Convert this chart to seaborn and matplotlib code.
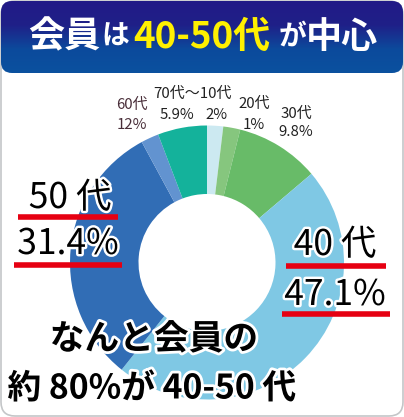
import matplotlib
matplotlib.use("Agg")
import matplotlib.pyplot as plt
import matplotlib.patheffects as pe
from matplotlib.patches import FancyBboxPatch
import numpy as np
import seaborn as sns

sns.set_theme(style="white")
plt.rcParams['font.family'] = ['Noto Sans CJK JP', 'DejaVu Sans']

groups = ["10代", "20代", "30代", "40代", "50代", "60代", "70代"]
ring_shares = [1.9, 2.0, 9.9, 46.9, 31.4, 2.1, 5.8]
ring_colors = ["#cce9f1", "#86c67e", "#68bb68", "#7fc8e4", "#316db5", "#6293d0", "#14b29b"]

W, H = 404, 417
fig = plt.figure(figsize=(W / 100, H / 100), dpi=100)
ax = fig.add_axes([0, 0, 1, 1])
ax.set_xlim(0, W)
ax.set_ylim(H, 0)
ax.axis("off")

# outer frame
ax.add_patch(FancyBboxPatch((1, 1), W - 2, H - 2, boxstyle="round,pad=0,rounding_size=14",
                            fc="white", ec="#c4c6c8", lw=1.2))

# header band with vertical gradient
band = FancyBboxPatch((1, 1), W - 2, 72, boxstyle="round,pad=0,rounding_size=11",
                      fc="none", ec="none", transform=ax.transData)
ax.add_patch(band)
grad = np.linspace(0, 1, 100).reshape(-1, 1)
cmap = matplotlib.colors.LinearSegmentedColormap.from_list(
    "band", ["#221a87", "#1f2088", "#0c4a9c", "#0a519f"])
im = ax.imshow(grad, extent=(1, W - 1, 73, 1), cmap=cmap, aspect="auto", zorder=2)
im.set_clip_path(band)
ax.set_xlim(0, W)
ax.set_ylim(H, 0)

title_parts = [(64, "会員", "white", 26), (115, "は", "white", 20), (202, "40-50代", "#fff000", 26.5),
               (292, "が", "white", 20), (342, "中心", "white", 26)]
for x, txt, col, size in title_parts:
    ax.text(x, 37, txt, color=col, fontsize=size, fontweight="bold",
            ha="center", va="center", zorder=3)

# donut, drawn in its own axes so it stays circular
cx, cy, r = 207, 262.5, 137
dax = fig.add_axes([(cx - r) / W, 1 - (cy + r) / H, 2 * r / W, 2 * r / H])
dax.pie(ring_shares, colors=ring_colors, startangle=90, counterclock=False, radius=1,
        wedgeprops=dict(width=0.5, linewidth=0))
dax.set_xlim(-1, 1)
dax.set_ylim(-1, 1)
dax.set_aspect("equal")
dax.axis("off")
dax.patch.set_alpha(0)

# text overlay above donut
tax = fig.add_axes([0, 0, 1, 1])
tax.set_xlim(0, W)
tax.set_ylim(H, 0)
tax.axis("off")
tax.patch.set_alpha(0)

small_labels = [(193, 94, "70代〜10代", "#222222"), (177, 114.5, "5.9%", "#222222"),
                (217, 114.5, "2%", "#222222"), (254, 103.5, "20代", "#222222"),
                (254, 125, "1%", "#222222"), (296, 113.5, "30代", "#222222"),
                (296, 132.5, "9.8%", "#222222"), (132, 104.5, "60代", "#4a2f3a"),
                (132, 124.5, "12%", "#4a2f3a")]
for x, y, txt, col in small_labels:
    tax.text(x, y, txt, color=col, fontsize=10.8, ha="center", va="center")

halo = [pe.withStroke(linewidth=3.5, foreground="white")]
big = [(70, 198, "50 代"), (68, 244, "31.4%"), (335, 245, "40 代"), (335, 295, "47.1%")]
for x, y, txt in big:
    tax.text(x, y, txt, color="black", fontsize=25.5, ha="center", va="center", path_effects=halo)

# red underlines
for x0, x1, y in [(18, 118, 217), (14, 122, 265), (286, 386, 266), (282, 390, 314)]:
    tax.plot([x0, x1], [y, y], color="#e60012", lw=4, solid_capstyle="butt")

halo2 = [pe.withStroke(linewidth=4, foreground="white")]
tax.text(154, 339, "なんと会員の", color="black", fontsize=25, fontweight="bold", ha="center", va="center", path_effects=halo2)
tax.text(152, 388, "約 80%が 40-50 代", color="black", fontsize=24.3, fontweight="bold", ha="center", va="center", path_effects=halo2)

fig.savefig("out.png", dpi=100)
